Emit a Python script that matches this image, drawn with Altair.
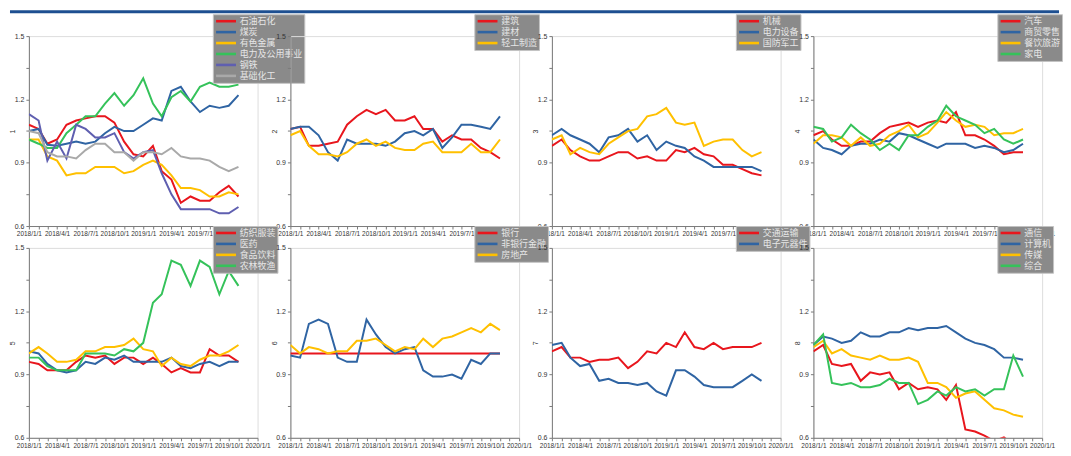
import altair as alt
import pandas as pd

# ---------------- data ----------------
months = ["2018-01-01", "2018-02-01", "2018-03-01", "2018-04-01", "2018-05-01", "2018-06-01",
          "2018-07-01", "2018-08-01", "2018-09-01", "2018-10-01", "2018-11-01", "2018-12-01",
          "2019-01-01", "2019-02-01", "2019-03-01", "2019-04-01", "2019-05-01", "2019-06-01",
          "2019-07-01", "2019-08-01", "2019-09-01", "2019-10-01", "2019-11-01"]

# x tick positions (year, month); labels shown every quarter
tick_months = [(2018, m) for m in range(1, 13)] + [(2019, m) for m in range(1, 13)] + [(2020, 1)]
y_ticks = [0.6, 0.75, 0.9, 1.05, 1.2, 1.35, 1.5]

RED, BLUE, YEL, GRN, PUR, GRY = "#e8161d", "#2f64a3", "#ffc000", "#35c25a", "#5f5fb0", "#a9a9a9"

# panel 1
shiyou = [1.08, 1.06, 0.99, 1.01, 1.08, 1.10, 1.11, 1.12, 1.12, 1.09, 1.00, 0.94, 0.93, 0.98, 0.86, 0.82, 0.71, 0.74, 0.72, 0.72, 0.76, 0.79, 0.74]
meitan = [1.05, 1.06, 0.985, 0.98, 0.99, 1.00, 0.99, 1.00, 1.04, 1.07, 1.05, 1.05, 1.08, 1.11, 1.10, 1.24, 1.26, 1.19, 1.14, 1.17, 1.16, 1.17, 1.22]
youse = [1.01, 1.01, 0.93, 0.91, 0.84, 0.85, 0.85, 0.88, 0.88, 0.88, 0.85, 0.86, 0.89, 0.91, 0.89, 0.84, 0.78, 0.78, 0.77, 0.74, 0.74, 0.76, 0.75]
dianli = [1.01, 0.99, 0.97, 0.97, 1.04, 1.08, 1.12, 1.12, 1.18, 1.23, 1.17, 1.22, 1.30, 1.18, 1.12, 1.21, 1.24, 1.19, 1.26, 1.28, 1.26, 1.26, 1.27]
gangtie = [1.13, 1.10, 0.91, 1.00, 0.92, 1.08, 1.06, 1.02, 1.02, 1.04, 0.95, 0.92, 0.95, 0.96, 0.85, 0.75, 0.68, 0.68, 0.68, 0.68, 0.66, 0.66, 0.69]
huagong = [1.05, 1.04, 0.95, 0.93, 0.93, 0.92, 0.96, 0.99, 0.99, 0.95, 0.95, 0.91, 0.95, 0.95, 0.94, 0.97, 0.93, 0.92, 0.92, 0.91, 0.88, 0.86, 0.88]
# panel 2
jianzhu = [1.06, 1.07, 0.98, 0.98, 0.99, 1.00, 1.08, 1.12, 1.15, 1.13, 1.15, 1.10, 1.10, 1.12, 1.06, 1.06, 1.00, 1.03, 1.01, 1.01, 0.97, 0.95, 0.92]
jiancai = [1.06, 1.07, 1.07, 1.03, 0.95, 0.91, 1.01, 0.99, 0.99, 0.99, 0.98, 1.00, 1.04, 1.05, 1.03, 1.06, 0.97, 1.02, 1.08, 1.08, 1.07, 1.06, 1.12]
qinggong = [1.03, 1.05, 0.98, 0.94, 0.94, 0.93, 0.95, 0.99, 1.01, 0.98, 1.00, 0.97, 0.96, 0.96, 0.99, 1.00, 0.95, 0.95, 0.95, 0.99, 0.95, 0.95, 1.01]
# panel 3
jixie = [0.98, 1.01, 0.96, 0.93, 0.91, 0.91, 0.93, 0.95, 0.95, 0.92, 0.93, 0.91, 0.91, 0.96, 0.95, 0.97, 0.94, 0.93, 0.89, 0.89, 0.87, 0.85, 0.84]
dianshe = [1.03, 1.06, 1.03, 1.01, 0.99, 0.95, 1.02, 1.03, 1.06, 1.00, 1.03, 0.96, 1.00, 0.98, 0.97, 0.93, 0.91, 0.88, 0.88, 0.88, 0.88, 0.88, 0.86]
guofang = [1.01, 1.03, 0.94, 0.97, 0.95, 0.94, 0.99, 1.02, 1.05, 1.06, 1.12, 1.13, 1.16, 1.09, 1.08, 1.09, 0.98, 1.00, 1.01, 1.01, 0.96, 0.93, 0.95]
# panel 4
qiche = [1.03, 1.05, 1.01, 0.98, 0.98, 1.00, 1.00, 1.04, 1.07, 1.08, 1.09, 1.07, 1.09, 1.10, 1.09, 1.14, 1.03, 1.03, 1.01, 0.98, 0.94, 0.95, 0.95]
shangmao = [1.01, 0.97, 0.96, 0.94, 0.98, 0.99, 0.99, 1.01, 1.00, 1.04, 1.03, 1.01, 0.99, 0.97, 0.99, 0.99, 0.99, 0.97, 0.98, 0.97, 0.95, 0.96, 0.99]
canyin = [0.99, 1.03, 1.03, 1.02, 0.98, 1.02, 0.98, 0.99, 1.03, 1.05, 1.08, 1.02, 1.04, 1.09, 1.14, 1.10, 1.07, 1.08, 1.07, 1.03, 1.04, 1.04, 1.06]
jiadian = [1.07, 1.06, 1.00, 1.02, 1.08, 1.04, 1.01, 0.96, 0.99, 0.96, 1.03, 1.03, 1.07, 1.10, 1.17, 1.12, 1.10, 1.08, 1.04, 1.06, 1.01, 0.99, 1.01]
# panel 5
fangzhi = [0.96, 0.95, 0.92, 0.92, 0.92, 0.96, 0.99, 0.98, 0.99, 0.95, 0.98, 0.98, 0.95, 0.98, 0.95, 0.91, 0.93, 0.91, 0.91, 1.02, 0.99, 0.99, 0.96]
yiyao = [1.01, 1.00, 0.95, 0.92, 0.91, 0.92, 0.96, 0.95, 0.98, 0.97, 0.99, 0.96, 0.96, 0.96, 0.96, 0.98, 0.94, 0.93, 0.95, 0.96, 0.94, 0.96, 0.96]
shipin = [1.00, 1.03, 1.00, 0.96, 0.96, 0.97, 1.01, 1.01, 1.03, 1.03, 1.04, 1.07, 1.02, 1.01, 0.94, 0.98, 0.95, 0.94, 0.97, 0.99, 0.99, 1.01, 1.04]
nonglin = [0.98, 0.98, 0.94, 0.92, 0.92, 0.92, 1.00, 1.00, 1.00, 0.99, 1.02, 1.01, 1.05, 1.24, 1.28, 1.44, 1.42, 1.32, 1.44, 1.41, 1.28, 1.39, 1.32]
# panel 6
yinhang = [1.00] * 23
feiyin = [0.99, 0.98, 1.14, 1.16, 1.14, 0.98, 0.96, 0.96, 1.16, 1.09, 1.03, 1.00, 1.02, 1.03, 0.92, 0.89, 0.89, 0.90, 0.88, 0.97, 0.95, 1.00, 1.00]
fangdi = [1.04, 1.00, 1.03, 1.02, 1.00, 1.01, 1.01, 1.06, 1.06, 1.07, 1.04, 1.01, 1.03, 1.02, 1.07, 1.03, 1.07, 1.08, 1.10, 1.12, 1.10, 1.14, 1.11]
# panel 7
jiaotong = [1.01, 1.03, 0.98, 0.98, 0.96, 0.97, 0.97, 0.98, 0.93, 0.96, 1.01, 1.00, 1.05, 1.03, 1.10, 1.03, 1.02, 1.05, 1.02, 1.03, 1.03, 1.03, 1.05]
dianzi = [1.04, 1.05, 0.98, 0.94, 0.95, 0.87, 0.88, 0.86, 0.86, 0.85, 0.86, 0.82, 0.80, 0.92, 0.92, 0.89, 0.85, 0.84, 0.84, 0.84, 0.87, 0.90, 0.87]
# panel 8
tongxin = [1.01, 1.04, 0.95, 0.94, 0.95, 0.87, 0.91, 0.90, 0.91, 0.83, 0.86, 0.83, 0.84, 0.83, 0.78, 0.85, 0.64, 0.63, 0.61, 0.585, 0.602, 0.57, 0.56]
jisuanji = [1.04, 1.08, 1.07, 1.05, 1.06, 1.10, 1.08, 1.08, 1.10, 1.10, 1.12, 1.11, 1.12, 1.12, 1.13, 1.10, 1.07, 1.05, 1.04, 1.02, 0.98, 0.98, 0.97]
chuanmei = [1.03, 1.06, 1.00, 1.02, 0.99, 0.98, 0.97, 0.99, 0.97, 0.97, 0.98, 0.96, 0.86, 0.86, 0.84, 0.79, 0.81, 0.82, 0.78, 0.74, 0.73, 0.71, 0.70]
zonghe = [1.04, 1.09, 0.86, 0.85, 0.86, 0.84, 0.84, 0.85, 0.88, 0.86, 0.86, 0.76, 0.78, 0.82, 0.80, 0.84, 0.82, 0.83, 0.80, 0.83, 0.83, 0.99, 0.89]

panels = [
    ("1", ["石油石化", "煤炭", "有色金属", "电力及公用事业", "钢铁", "基础化工"],
     [RED, BLUE, YEL, GRN, PUR, GRY], [shiyou, meitan, youse, dianli, gangtie, huagong]),
    ("2", ["建筑", "建材", "轻工制造"], [RED, BLUE, YEL], [jianzhu, jiancai, qinggong]),
    ("3", ["机械", "电力设备", "国防军工"], [RED, BLUE, YEL], [jixie, dianshe, guofang]),
    ("4", ["汽车", "商贸零售", "餐饮旅游", "家电"], [RED, BLUE, YEL, GRN], [qiche, shangmao, canyin, jiadian]),
    ("5", ["纺织服装", "医药", "食品饮料", "农林牧渔"], [RED, BLUE, YEL, GRN], [fangzhi, yiyao, shipin, nonglin]),
    ("6", ["银行", "非银行金融", "房地产"], [RED, BLUE, YEL], [yinhang, feiyin, fangdi]),
    ("7", ["交通运输", "电子元器件"], [RED, BLUE], [jiaotong, dianzi]),
    ("8", ["通信", "计算机", "传媒", "综合"], [RED, BLUE, YEL, GRN], [tongxin, jisuanji, chuanmei, zonghe]),
]

# ---------------- chart ----------------
AX_COLOR = "#7a7a7a"
TXT = "#333333"
FONT = "Liberation Sans"

x_scale = alt.Scale(type="utc",
                    domain=[alt.DateTime(year=2018, month=1, date=1, utc=True),
                            alt.DateTime(year=2020, month=1, date=1, utc=True)])
x_axis = alt.Axis(values=[alt.DateTime(year=y, month=m, date=1, utc=True) for y, m in tick_months],
                  labelExpr="utcmonth(datum.value) % 3 == 0 ? utcFormat(datum.value, '%Y/%-m/%-d') : ''",
                  title=None, grid=False, tickSize=3, labelPadding=2, labelOverlap=False,
                  labelFlush=False, labelFontSize=6.5, labelFont=FONT, labelColor=TXT,
                  domainColor=AX_COLOR, tickColor=AX_COLOR)


def y_axis(title):
    return alt.Axis(values=y_ticks, title=title,
                    labelExpr="round(datum.value * 100) % 30 == 0 ? format(datum.value, '.1f') : ''",
                    grid=False, tickSize=3, labelPadding=2, labelFontSize=7, labelFont=FONT,
                    labelColor=TXT, titleFontSize=7, titleFont=FONT, titleColor=TXT,
                    titleFontWeight="normal", titleX=-16, titleY=95.5, titleBaseline="middle",
                    titleAngle=270, domainColor=AX_COLOR, tickColor=AX_COLOR)


def make_panel(idx, title, names, colors, series):
    rows = []
    for n, vals in zip(names, series):
        for d, v in zip(months, vals):
            rows.append({"date": d, "value": v, "name": n})
    df = pd.DataFrame(rows)
    legend = alt.Legend(title=None, orient="none", legendX=185, legendY=-22,
                        fillColor="#8a8a8a", strokeColor="#c4c4c4", padding=1.5,
                        symbolType="M-1,0H4.35", symbolSize=56, symbolStrokeWidth=2.6,
                        labelFont="Noto Sans CJK SC", labelFontSize=9, labelColor="#e6e6e6",
                        labelOffset=14.5, rowPadding=0, labelLimit=300)
    lines = alt.Chart(df).mark_line(strokeWidth=2, clip=True).encode(
        x=alt.X("date:T", scale=x_scale, axis=x_axis),
        y=alt.Y("value:Q", scale=alt.Scale(domain=[0.6, 1.5], zero=False, nice=False), axis=y_axis(title)),
        color=alt.Color("name:N", scale=alt.Scale(domain=names, range=colors), sort=names, legend=legend),
    )
    if idx == 0:
        bar = alt.Chart(pd.DataFrame({"k": [0]})).mark_rect(color="#1d4f91").encode(
            x=alt.value(-19), x2=alt.value(1036), y=alt.value(-26), y2=alt.value(-23))
        return alt.layer(bar, lines).properties(width=230, height=191)
    return lines.properties(width=230, height=191)


charts = [make_panel(i, *p) for i, p in enumerate(panels)]

chart = alt.concat(*charts, columns=4, spacing={"row": 22, "column": 33}, bounds="flush").resolve_scale(
    color="independent").properties(padding=0).configure_view(stroke=None).configure(background="white")

chart.save("out.html", embed_options={"renderer": "svg", "actions": False})
